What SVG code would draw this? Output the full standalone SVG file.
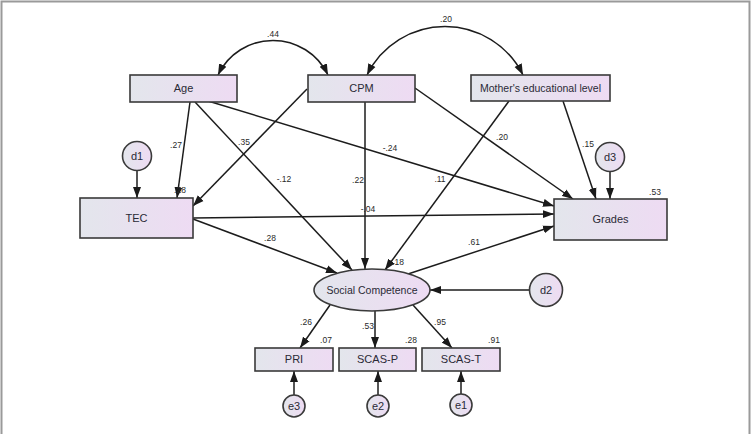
<svg xmlns="http://www.w3.org/2000/svg" width="752" height="434" viewBox="0 0 752 434">
<defs>
<linearGradient id="g" x1="0" y1="0" x2="1" y2="0">
<stop offset="0" stop-color="#e3e6ec"/>
<stop offset="1" stop-color="#eedbf3"/>
</linearGradient>
<marker id="a" markerUnits="userSpaceOnUse" markerWidth="11" markerHeight="9" refX="11" refY="4.5" orient="auto-start-reverse">
<path d="M0,0.5 L11,4.5 L0,8.5 z" fill="#1a1a1a"/>
</marker>
</defs>
<style>
.n rect,.n circle,.n ellipse{fill:url(#g);stroke:#3a3a3a;stroke-width:1.6}
.t{font-family:"Liberation Sans",Arial,sans-serif;font-size:11px;fill:#2a2a36;text-anchor:middle}
.l{font-family:"Liberation Sans",Arial,sans-serif;font-size:8.5px;fill:#2a2a2a;text-anchor:middle}
.c path{fill:none;stroke:#1c1c1c;stroke-width:1.5;marker-end:url(#a)}
</style>
<rect width="752" height="434" fill="#fff"/>
<path d="M1.5,434 V1.5 H749.5 V434" fill="none" stroke="#9a9a9a" stroke-width="2"/>

<g class="c" id="connectors">
<path d="M218,75 A61,61 0 0 1 328,75" style="marker-start:url(#a)"/>
<path d="M367,75 A87,87 0 0 1 523,75" style="marker-start:url(#a)"/>
<path d="M190,102 L177,198"/>
<path d="M195,102 L352,270"/>
<path d="M208,101 L554,206"/>
<path d="M307,89 L193,206"/>
<path d="M365,102 L365,269"/>
<path d="M415,88 L573,199"/>
<path d="M509,101 L385,270"/>
<path d="M563,101 L596,199"/>
<path d="M610,171 L610,199"/>
<path d="M137,170 L137,198"/>
<path d="M193,218 L554,214"/>
<path d="M193,219 L337,273"/>
<path d="M408,274 L554,226"/>
<path d="M529,290 L430,290"/>
<path d="M330,305 L300,348"/>
<path d="M375,311 L375,348"/>
<path d="M413,305 L452,348"/>
<path d="M294,395 L294,371"/>
<path d="M378,395 L378,371"/>
<path d="M461,394 L461,371"/>
</g>

<g id="labels">
<text class="l" x="273" y="37">.44</text>
<text class="l" x="446" y="22">.20</text>
<text class="l" x="176" y="148">.27</text>
<text class="l" x="244" y="145">.35</text>
<text class="l" x="284" y="182">-.12</text>
<text class="l" x="390" y="151">-.24</text>
<text class="l" x="502" y="140">.20</text>
<text class="l" x="358" y="183">.22</text>
<text class="l" x="440" y="182">.11</text>
<text class="l" x="588" y="147">.15</text>
<text class="l" x="368" y="212">-.04</text>
<text class="l" x="270" y="241">.28</text>
<text class="l" x="474" y="245">.61</text>
<text class="l" x="306" y="325">.26</text>
<text class="l" x="368" y="329">.53</text>
<text class="l" x="440" y="325">.95</text>
<text class="l" x="180" y="193">.28</text>
<text class="l" x="398" y="265">.18</text>
<text class="l" x="655" y="195">.53</text>
<text class="l" x="326" y="343">.07</text>
<text class="l" x="411" y="343">.28</text>
<text class="l" x="494" y="343">.91</text>
</g>

<g id="age" class="n"><rect x="130" y="75" width="107" height="27"/><text class="t" x="183.5" y="92">Age</text></g>
<g id="cpm" class="n"><rect x="308" y="75" width="107" height="27"/><text class="t" x="361.5" y="92">CPM</text></g>
<g id="mother" class="n"><rect x="471" y="75" width="139" height="26"/><text class="t" x="540.5" y="92" style="font-size:10.5px">Mother's educational level</text></g>
<g id="tec" class="n"><rect x="80" y="198" width="113" height="40"/><text class="t" x="136.5" y="222">TEC</text></g>
<g id="grades" class="n"><rect x="554" y="199" width="113" height="41"/><text class="t" x="610.5" y="223">Grades</text></g>
<g id="d1" class="n"><circle cx="137" cy="156" r="14.5"/><text class="t" x="137" y="160">d1</text></g>
<g id="d3" class="n"><circle cx="610" cy="157" r="14.5"/><text class="t" x="610" y="161">d3</text></g>
<g id="sc" class="n"><ellipse cx="372" cy="290" rx="58" ry="21"/><text class="t" x="372" y="294" style="font-size:10.5px">Social Competence</text></g>
<g id="d2" class="n"><circle cx="546" cy="290" r="16.5"/><text class="t" x="546" y="294">d2</text></g>
<g id="pri" class="n"><rect x="255" y="348" width="78" height="23"/><text class="t" x="294" y="363">PRI</text></g>
<g id="scasp" class="n"><rect x="339" y="348" width="77" height="23"/><text class="t" x="377.5" y="363">SCAS-P</text></g>
<g id="scast" class="n"><rect x="422" y="348" width="78" height="23"/><text class="t" x="461" y="363">SCAS-T</text></g>
<g id="e3" class="n"><circle cx="294" cy="406" r="11"/><text class="t" x="294" y="410">e3</text></g>
<g id="e2" class="n"><circle cx="378" cy="406" r="11"/><text class="t" x="378" y="410">e2</text></g>
<g id="e1" class="n"><circle cx="461" cy="405" r="11"/><text class="t" x="461" y="409">e1</text></g>
</svg>
